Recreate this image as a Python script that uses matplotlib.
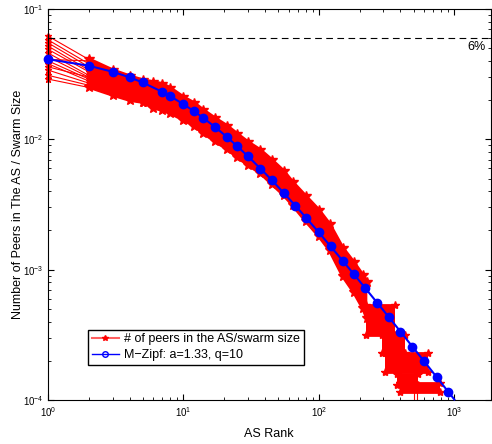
import matplotlib
matplotlib.use("Agg")
import matplotlib.pyplot as plt
from matplotlib.lines import Line2D

plt.rcParams['font.family'] = ['Liberation Sans', 'DejaVu Sans']
plt.rcParams['mathtext.fontset'] = 'custom'
plt.rcParams['mathtext.rm'] = 'Liberation Sans'
plt.rcParams['mathtext.it'] = 'Liberation Sans:italic'
plt.rcParams['mathtext.bf'] = 'Liberation Sans:bold'

# M-Zipf fit (a=1.33, q=10), read at the marker ranks
zipf_rank = [1, 2, 3, 4, 5, 7, 8, 10, 12, 14, 17, 21, 25, 30, 37, 45, 55, 67, 81,
             100, 122, 150, 181, 220, 270, 330, 400, 490, 595, 740, 900, 1000]
zipf_val = [0.0412, 0.0367, 0.0330, 0.0299, 0.0273, 0.0231, 0.0214, 0.0186, 0.0164,
            0.0146, 0.0125, 0.0104, 0.00884, 0.00740, 0.00597, 0.00485, 0.00388,
            0.00310, 0.00248, 0.00193, 0.00151, 0.00117, 0.000925, 0.000722,
            0.000556, 0.000430, 0.000335, 0.000257, 0.000200, 0.000150, 0.000116,
            0.000101]

# measured swarms: first ranks of individual swarms
swarm_rank = [1, 2, 3, 4, 5, 7, 10]
swarms = [
    [0.062, 0.041, 0.034, 0.030, 0.028, 0.025, 0.020],
    [0.058, 0.038, 0.032, 0.029, 0.027, 0.024, 0.019],
    [0.055, 0.036, 0.031, 0.028, 0.026, 0.023, 0.018],
    [0.052, 0.034, 0.030, 0.027, 0.025, 0.022, 0.018],
    [0.049, 0.033, 0.029, 0.026, 0.024, 0.021, 0.017],
    [0.046, 0.031, 0.028, 0.025, 0.023, 0.020, 0.016],
    [0.043, 0.030, 0.027, 0.024, 0.022, 0.020, 0.016],
    [0.040, 0.029, 0.026, 0.023, 0.021, 0.019, 0.015],
    [0.038, 0.028, 0.025, 0.022, 0.021, 0.018, 0.015],
    [0.036, 0.030, 0.026, 0.024, 0.022, 0.019, 0.016],
    [0.034, 0.027, 0.024, 0.022, 0.020, 0.018, 0.0145],
    [0.031, 0.026, 0.023, 0.021, 0.0195, 0.017, 0.0142],
    [0.029, 0.025, 0.022, 0.020, 0.019, 0.0168, 0.0141],
    [0.041, 0.040, 0.033, 0.029, 0.027, 0.023, 0.019],
]

# spread of all swarms over the ranks (upper / lower edge)
band_rank = [2, 3, 4, 5, 6, 7, 8, 10, 12, 14, 17, 21, 25, 30, 37, 45, 55, 64, 80,
             100, 120, 150, 181, 211, 226]
band_hi = [0.0413, 0.0340, 0.0306, 0.0285, 0.0275, 0.0266, 0.0248, 0.0211, 0.0190,
           0.0168, 0.0146, 0.0127, 0.0110, 0.00953, 0.00828, 0.00694, 0.00571,
           0.00470, 0.00367, 0.00287, 0.00224, 0.00147, 0.00114, 0.000909, 0.000803]
band_lo = [0.0252, 0.0219, 0.0200, 0.0193, 0.0174, 0.0168, 0.0159, 0.0141, 0.0127,
           0.0112, 0.00971, 0.00843, 0.00731, 0.00636, 0.00551, 0.00454, 0.00374,
           0.00313, 0.00236, 0.00181, 0.00141, 0.000893, 0.000673, 0.000507, 0.000426]

# tail: plateaus of 1..k peers per swarm
step_r0 = [222, 290, 307, 375, 395]
step_r1 = [364, 433, 640, 535, 780]
step_hi = [0.000535, 0.000315, 0.000229, 0.000158, 0.000135]
step_lo = [0.000315, 0.000229, 0.000164, 0.000130, 0.000115]
drop_ranks = [507, 530]

red = '#ff0000'
blue = '#0000ff'

fig = plt.figure(figsize=(4.92, 4.44), dpi=100)
ax = fig.add_axes([48 / 492, 1 - 400 / 444, 442.5 / 492, 391 / 444])

ax.fill_between(band_rank, band_lo, band_hi, color=red, lw=0)
ax.plot(band_rank, band_hi, color=red, marker='*', ms=7, lw=2.5)
ax.plot(band_rank, band_lo, color=red, marker='*', ms=7, lw=2.5)
for r0, r1, hi, lo in zip(step_r0, step_r1, step_hi, step_lo):
    ax.fill_between([r0, r1], [lo, lo], [hi, hi], color=red, lw=0)
    ax.plot([r0, r1], [hi, hi], color=red, marker='*', ms=6, lw=2)
    ax.plot([r0, r1], [lo, lo], color=red, marker='*', ms=6, lw=2)
ax.vlines(drop_ranks, 1e-4, 0.00013, color=red, lw=0.8)
for s in swarms:
    ax.plot(swarm_rank, s, color=red, marker='*', ms=5, lw=0.8, clip_on=False)

ax.plot(zipf_rank, zipf_val, color=blue, lw=1.5, marker='o', ms=6,
        markevery=list(range(len(zipf_rank) - 1)), clip_on=False, zorder=3)

ax.axhline(0.06, color='k', ls=(0, (6, 4)), lw=0.8)
ax.text(0.99, 0.051, '6%', transform=ax.get_yaxis_transform(), ha='right',
        va='center', fontsize=9)

ax.set_xscale('log')
ax.set_yscale('log')
ax.set_xlim(1, 1850)
ax.set_ylim(1e-4, 1e-1)
ax.tick_params(which='both', direction='in', top=True, right=True, labelsize=7)
ax.tick_params(which='major', length=4)
ax.tick_params(which='minor', length=2)
ax.set_xlabel('AS Rank', fontsize=9, labelpad=7)
ax.set_ylabel('Number of Peers in The AS / Swarm Size', fontsize=9, labelpad=-1)

handles = [Line2D([], [], color='#ff6060', lw=1.5, marker='*', ms=4,
                  mfc=red, mec=red),
           Line2D([], [], color=blue, lw=1, marker='o', ms=4, mfc='none')]
ax.legend(handles, ['# of peers in the AS/swarm size', 'M\u2212Zipf: a=1.33, q=10'],
          loc='lower left', bbox_to_anchor=(0.09, 0.09), borderaxespad=0,
          fontsize=9, fancybox=False, edgecolor='k', framealpha=1,
          handlelength=2.2, borderpad=0.3, labelspacing=0.3, handletextpad=0.4)

fig.savefig('out.png', dpi=100)
